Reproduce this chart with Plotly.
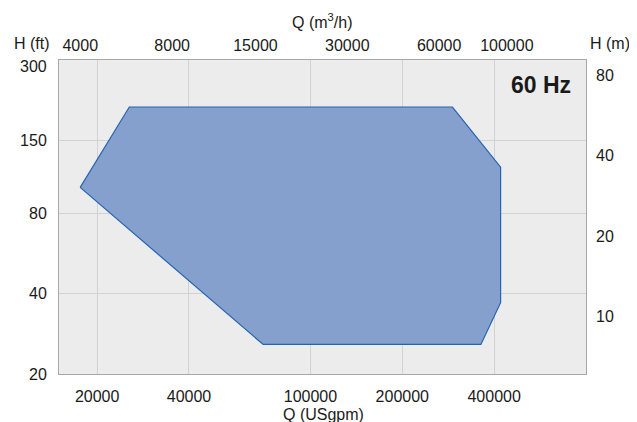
import plotly.graph_objects as go
import math

# Data
q_usgpm = [17600, 25500, 292000, 420000, 420000, 362000, 70000, 17600]
h_ft = [100, 200, 200, 119, 37, 25.8, 25.8, 100]

x_ticks = [20000, 40000, 100000, 200000, 400000]
x2_ticks = [4000, 8000, 15000, 30000, 60000, 100000]
y_ticks = [20, 40, 80, 150]
y_top_label = "300"
y2_ticks = [10, 20, 40, 80]

GPM_PER_M3H = 4.4029
M_PER_FT = 0.3048
x_range = [15000, 800000]
y_range = [20, 300]

FONT = "Liberation Sans, Arial, Helvetica, sans-serif"
TXT = "#1a1a1a"

# figure size accounts for the 8px default page margin
W, H = 629, 414
L, R, T, B = 48, 51, 52, 48

fig = go.Figure()
fig.add_trace(go.Scatter(
    x=q_usgpm, y=h_ft, mode="lines", fill="toself",
    fillcolor="rgb(133,160,205)",
    line=dict(color="rgb(36,100,180)", width=1.2),
    hoverinfo="skip", showlegend=False))
# invisible trace to activate secondary axes
fig.add_trace(go.Scatter(
    x=[x_range[0] / GPM_PER_M3H], y=[y_range[0] * M_PER_FT],
    xaxis="x2", yaxis="y2", mode="markers",
    marker=dict(opacity=0), hoverinfo="skip", showlegend=False))

axis_common = dict(type="log", tickfont=dict(family=FONT, size=16, color=TXT),
                   ticks="", zeroline=False)

fig.update_layout(
    width=W, height=H,
    margin=dict(l=L, r=R, t=T, b=B),
    paper_bgcolor="white", plot_bgcolor="#ececec",
    font=dict(family=FONT, size=16, color=TXT),
    xaxis=dict(**axis_common,
               range=[math.log10(x_range[0]), math.log10(x_range[1])],
               tickvals=x_ticks, ticktext=[str(v) for v in x_ticks],
               showgrid=True, gridcolor="#d2d2d2", gridwidth=1,
               showline=True, linecolor="#a8a8a8", linewidth=1, mirror=True,
               ticklabelstandoff=8),
    xaxis2=dict(**axis_common, overlaying="x", side="top",
                range=[math.log10(x_range[0] / GPM_PER_M3H), math.log10(x_range[1] / GPM_PER_M3H)],
                tickvals=x2_ticks, ticktext=[str(v) for v in x2_ticks],
                showgrid=False, showline=False, ticklabelstandoff=5),
    yaxis=dict(**axis_common,
               range=[math.log10(y_range[0]), math.log10(y_range[1])],
               tickvals=y_ticks, ticktext=[str(v) for v in y_ticks],
               showgrid=True, gridcolor="#d2d2d2", gridwidth=1,
               showline=True, linecolor="#a8a8a8", linewidth=1, mirror=True,
               ticklabelstandoff=8),
    yaxis2=dict(**axis_common, overlaying="y", side="right",
                range=[math.log10(y_range[0] * M_PER_FT), math.log10(y_range[1] * M_PER_FT)],
                tickvals=y2_ticks, ticktext=[str(v) for v in y2_ticks],
                showgrid=False, showline=False, ticklabelstandoff=9),
)

pw, ph = W - L - R, H - T - B
def px(xp): return (xp - L) / pw
def py(yp): return (H - B - yp) / ph

labels = [
    ("<b>60 Hz</b>", 532.5, 77, 23, "center"),
    ("Q (m<sup>3</sup>/h)", 312, 13.5, 16, "center"),
    ("Q (USgpm)", 314, 406, 16, "center"),
    ("H (ft)", 20.7, 35.3, 16, "center"),
    ("H (m)", 624, 35.3, 16, "right"),
    (y_top_label, 37.5, 58.7, 16, "right"),
]
for text, xx, yy, sz, anc in labels:
    fig.add_annotation(text=text, x=px(xx), y=py(yy), xref="paper", yref="paper",
                       xanchor=anc, yanchor="middle", showarrow=False,
                       font=dict(family=FONT, size=sz, color=TXT))

fig.write_html("out.html")
